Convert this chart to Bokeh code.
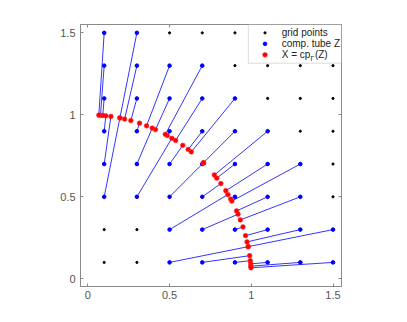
from bokeh.plotting import figure
from bokeh.models import Range1d, LinearAxis, FixedTicker, BoxAnnotation, Label, NumeralTickFormatter, CustomJSTickFormatter
from bokeh.embed import file_html
from bokeh.resources import INLINE

# grid values (both directions)
grid_vals = [0.1, 0.3, 0.5, 0.7, 0.9, 1.1, 1.3, 1.5]

# computational tube Z (blue points)
tube_x = [0.1, 0.1, 0.1, 0.1, 0.1, 0.1,
          0.3, 0.3, 0.3, 0.3, 0.3, 0.3,
          0.5, 0.5, 0.5, 0.5, 0.5, 0.5, 0.5,
          0.7, 0.7, 0.7, 0.7, 0.7, 0.7, 0.7,
          0.9, 0.9, 0.9, 0.9, 0.9, 0.9,
          1.1, 1.1, 1.1, 1.1, 1.1,
          1.3, 1.3, 1.3, 1.3,
          1.5, 1.5]
tube_y = [0.5, 0.7, 0.9, 1.1, 1.3, 1.5,
          0.5, 0.7, 0.9, 1.1, 1.3, 1.5,
          0.1, 0.3, 0.5, 0.7, 0.9, 1.1, 1.3,
          0.1, 0.3, 0.5, 0.7, 0.9, 1.1, 1.3,
          0.1, 0.3, 0.5, 0.7, 0.9, 1.1,
          0.1, 0.3, 0.5, 0.7, 0.9,
          0.1, 0.3, 0.5, 0.7,
          0.1, 0.3]

# closest points X = cp(Z) (red points)
cp_x = [0.196, 0.141, 0.110, 0.091, 0.077, 0.067,
        0.514, 0.394, 0.316, 0.263, 0.225, 0.196,
        0.981, 0.857, 0.707, 0.581, 0.486, 0.414, 0.359,
        0.990, 0.919, 0.814, 0.707, 0.614, 0.537, 0.474,
        0.994, 0.949, 0.874, 0.789, 0.707, 0.633,
        0.996, 0.965, 0.910, 0.844, 0.774,
        0.997, 0.974, 0.933, 0.881,
        0.998, 0.981]
cp_y = [0.981, 0.990, 0.994, 0.996, 0.997, 0.998,
        0.857, 0.919, 0.949, 0.965, 0.974, 0.981,
        0.196, 0.514, 0.707, 0.814, 0.874, 0.910, 0.933,
        0.141, 0.394, 0.581, 0.707, 0.789, 0.844, 0.881,
        0.110, 0.316, 0.486, 0.614, 0.707, 0.774,
        0.091, 0.263, 0.414, 0.537, 0.633,
        0.077, 0.225, 0.359, 0.474,
        0.067, 0.196]

tick_vals = [0, 0.5, 1, 1.5]
legend_labels = ["grid points", "comp. tube Z", "X = cp", "\u0393", "(Z)"]

grid_x = [gx for gy in grid_vals for gx in grid_vals]
grid_y = [gy for gy in grid_vals for gx in grid_vals]

FONT = "Liberation Sans"
AX_COLOR = "#8a8a8a"
LBL_COLOR = "#555555"

p = figure(frame_width=261, frame_height=262,
           x_range=Range1d(-0.045, 1.552), y_range=Range1d(-0.047, 1.551),
           output_backend="svg", toolbar_location=None,
           min_border_left=80, min_border_top=24, min_border_right=20, min_border_bottom=22)
p.xgrid.visible = False
p.ygrid.visible = False
p.outline_line_color = AX_COLOR
p.background_fill_color = "white"
p.border_fill_color = "white"

bottom_ax = p.below[0]
left_ax = p.left[0]
top_ax = LinearAxis()
right_ax = LinearAxis()
p.add_layout(top_ax, "above")
p.add_layout(right_ax, "right")

for ax in (bottom_ax, left_ax, top_ax, right_ax):
    ax.ticker = FixedTicker(ticks=tick_vals)
    ax.formatter = NumeralTickFormatter(format="0.[0]")
    ax.axis_line_color = AX_COLOR
    ax.major_tick_line_color = AX_COLOR
    ax.major_tick_in = 3
    ax.major_tick_out = 0
    ax.minor_tick_line_color = None
    ax.major_label_text_font = FONT
    ax.major_label_text_font_size = "11px"
    ax.major_label_text_color = LBL_COLOR

bottom_ax.major_label_standoff = 4
left_ax.major_label_standoff = 5
for ax in (top_ax, right_ax):
    ax.formatter = CustomJSTickFormatter(code="return ''")
    ax.major_label_standoff = 0

# connecting lines
p.segment(x0=tube_x, y0=tube_y, x1=cp_x, y1=cp_y, line_color="blue", line_width=0.8)
# grid points
p.scatter(grid_x, grid_y, marker="circle", size=2.2, color="black")
# tube points
p.scatter(tube_x, tube_y, marker="circle", size=3.6, color="blue")
# closest points
p.scatter(cp_x, cp_y, marker="circle", size=4.8, fill_color="red", line_color="#ff3030", line_width=0.5)

# legend (manual, to allow a subscript)
box = BoxAnnotation(left=0.982, right=1.552, top=1.551, bottom=1.315,
                    fill_color="white", fill_alpha=1.0, line_color="#707070", line_width=0.8)
p.add_layout(box)

leg_x = 1.084
txt_x = 1.186
rows = [1.500, 1.433, 1.366]
r1 = p.scatter([leg_x], [rows[0]], marker="circle", size=2.2, color="black")
r2 = p.scatter([leg_x], [rows[1]], marker="circle", size=3.6, color="blue")
r3 = p.scatter([leg_x], [rows[2]], marker="circle", size=4.8, fill_color="red", line_color="#ff3030", line_width=0.5)
for r in (r1, r2, r3):
    r.level = "overlay"

common = dict(text_font=FONT, text_font_size="10px", text_color="#222222", text_baseline="middle")
p.add_layout(Label(x=txt_x, y=rows[0], text=legend_labels[0], **common))
p.add_layout(Label(x=txt_x, y=rows[1], text=legend_labels[1], **common))
p.add_layout(Label(x=txt_x, y=rows[2], text=legend_labels[2], **common))
p.add_layout(Label(x=txt_x, y=rows[2] - 0.02, x_offset=28.8, text=legend_labels[3],
                   text_font=FONT, text_font_size="7px", text_color="#222222", text_baseline="middle"))
p.add_layout(Label(x=txt_x, y=rows[2], x_offset=33.2, text=legend_labels[4], **common))

open("out.html", "w").write(file_html(p, INLINE))
